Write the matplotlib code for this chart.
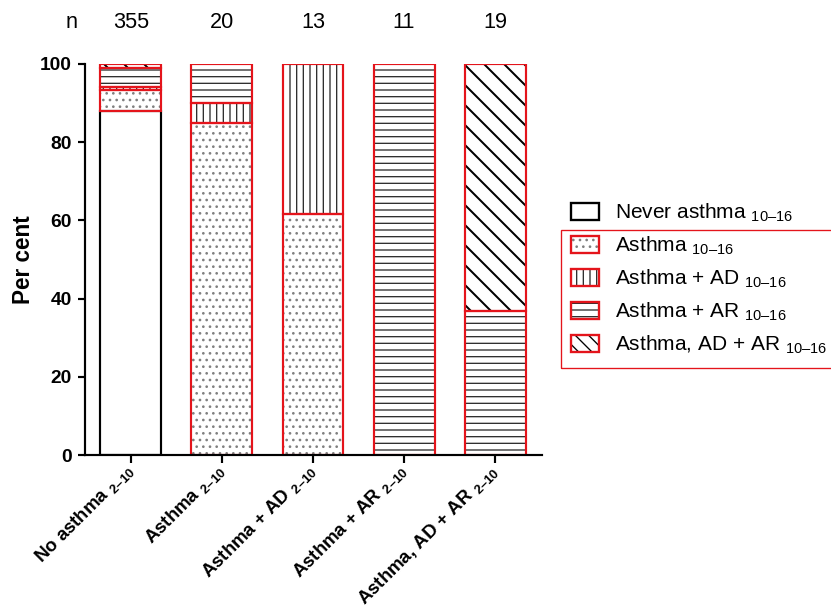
"""Stacked percentage bars: asthma status at 10-16 y by asthma/allergy group at 2-10 y."""
import numpy as np
import matplotlib
matplotlib.use("Agg")
import matplotlib.pyplot as plt
from matplotlib.patches import Patch, Rectangle
from matplotlib.transforms import blended_transform_factory

plt.rcParams["font.family"] = ["Liberation Sans", "DejaVu Sans"]
plt.rcParams["mathtext.fontset"] = "custom"
plt.rcParams["mathtext.rm"] = "Liberation Sans"
plt.rcParams["mathtext.bf"] = "Liberation Sans:bold"
plt.rcParams["mathtext.default"] = "regular"
plt.rcParams["hatch.linewidth"] = 0.8

# groups at 2-10 years (x axis) and number of children in each
groups = ["No asthma", "Asthma", "Asthma + AD", "Asthma + AR", "Asthma, AD + AR"]
n_total = [355, 20, 13, 11, 19]

# outcome at 10-16 years, counts per group
outcomes = ["Never asthma", "Asthma", "Asthma + AD", "Asthma + AR", "Asthma, AD + AR"]
never_asthma = [312, 0, 0, 0, 0]
asthma = [19, 17, 8, 0, 0]
asthma_ad = [3, 1, 5, 0, 0]
asthma_ar = [17, 2, 0, 11, 7]
asthma_ad_ar = [4, 0, 0, 0, 12]

RED = "#e4141b"
hatches = [None, "...", "|||", "---", "\\\\"]
legend_hatches = [None, "...", "|||", "---", "\\\\\\"]
hatch_cols = ["black", "#808080", "#303030", "#303030", "black"]
hatch_lw = [0.8, 0.8, 0.8, 0.8, 1.2]
edge_cols = ["black", RED, RED, RED, RED]

counts = np.array([never_asthma, asthma, asthma_ad, asthma_ar, asthma_ad_ar], float)
pct = counts / np.array(n_total) * 100
x = np.arange(len(groups))
W = 0.67

fig = plt.figure(figsize=(831 / 120, 607 / 120), dpi=120)
ax = fig.add_axes([85 / 831, 1 - 455 / 607, 457 / 831, 391 / 607])

bottom = np.zeros(len(groups))
borders = []
for k in range(len(outcomes)):
    vals = pct[k]
    m = vals > 0
    with plt.rc_context({"hatch.linewidth": hatch_lw[k]}):
        if hatches[k] is None:
            ax.bar(x[m], vals[m], W, bottom=bottom[m], color="white", linewidth=0)
        else:
            ax.bar(x[m], vals[m], W, bottom=bottom[m], color="white",
                   edgecolor=hatch_cols[k], linewidth=0, hatch=hatches[k])
    borders.append((x[m], vals[m], bottom[m].copy(), edge_cols[k]))
    bottom += vals

# outlines on top of the hatching
for xs, vs, bs, ec in borders:
    ax.bar(xs, vs, W, bottom=bs, fill=False, edgecolor=ec, linewidth=1.3)

ax.set_xlim(-0.505, 4.516)
ax.set_ylim(0, 100)
ax.set_yticks(np.arange(0, 101, 20))
for s in ["top", "right"]:
    ax.spines[s].set_visible(False)
for s in ["left", "bottom"]:
    ax.spines[s].set_linewidth(1.3)
    ax.spines[s].set_zorder(5)
ax.tick_params(axis="both", width=1.3, length=4.5, labelsize=11.5)
ax.tick_params(axis="y", pad=3.5)
for lab in ax.get_yticklabels():
    lab.set_fontweight("bold")
ax.set_ylabel("Per cent", fontsize=13.5, fontweight="bold", labelpad=3)

ax.set_xticks(x)
ax.set_xticklabels([g + " $_{2\u201310}$" for g in groups], rotation=45,
                   ha="right", va="center", rotation_mode="anchor",
                   fontsize=11.2, fontweight="bold")
ax.tick_params(axis="x", pad=3)

# group sizes above the bars
tr = blended_transform_factory(ax.transData, fig.transFigure)
fig.text(-0.648, 1 - 22 / 607, "n", transform=tr, ha="center", va="center", fontsize=13)
for xi, n in zip(x, n_total):
    fig.text(xi, 1 - 22 / 607, str(n), transform=tr, ha="center", va="center", fontsize=13)

handles = [Patch(facecolor="white", edgecolor="black", linewidth=1.4)]
for k in range(1, len(outcomes)):
    with plt.rc_context({"hatch.linewidth": hatch_lw[k]}):
        hp = Patch(facecolor="white", edgecolor=hatch_cols[k], linewidth=0, hatch=legend_hatches[k])
    handles.append((hp, Patch(fill=False, edgecolor=RED, linewidth=1.4)))
labels = [o + " $_{10\u201316}$" for o in outcomes]
leg = fig.legend(handles, labels, loc="upper left", bbox_to_anchor=(571 / 831, 1 - 202 / 607),
                 frameon=False, fontsize=12.5, handlelength=1.35, handleheight=0.87,
                 handletextpad=0.75, labelspacing=0.51, borderpad=0, borderaxespad=0)

# red frame around the asthma outcomes
fig.canvas.draw()
inv = fig.transFigure.inverted()
texts = leg.get_texts()
lb = leg.get_window_extent()
c0, c1, c4 = ((t.get_window_extent().y0 + t.get_window_extent().y1) / 2
              for t in (texts[0], texts[1], texts[4]))
top = (c0 + c1) / 2
bot = c4 - 23
left = lb.x0 - 10
(fx0, fy0), (fx1, fy1) = inv.transform([(left, bot), (fig.bbox.width + 20, top)])
fig.add_artist(Rectangle((fx0, fy0), fx1 - fx0, fy1 - fy0, transform=fig.transFigure,
                         fill=False, edgecolor=RED, linewidth=0.8, clip_on=False))

fig.savefig("out.png", dpi=120)
